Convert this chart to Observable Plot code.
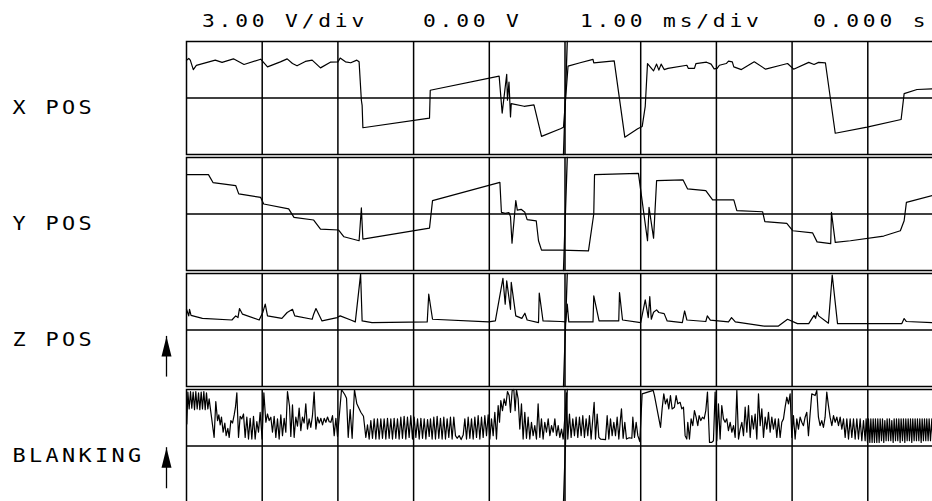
<!DOCTYPE html>
<html><head><meta charset="utf-8">
<script src="https://cdn.jsdelivr.net/npm/d3@7"></script>
<script src="https://cdn.jsdelivr.net/npm/@observablehq/plot@0.6"></script>
<style>
html,body{margin:0;padding:0;background:#fff;overflow:hidden;}
#wrap{position:relative;width:932px;height:501px;overflow:hidden;background:#fff;}
#header{position:relative;width:932px;height:40px;font-family:"DejaVu Sans Mono",monospace;font-size:17px;letter-spacing:3.05px;color:#000;}
#header span{position:absolute;top:11px;line-height:20px;white-space:pre;transform:scaleX(1.25);transform-origin:0 50%;}
#chart{width:944px;}
#chart svg{max-width:none !important;width:944px;height:462px;display:block;}
#chart svg text{letter-spacing:2.9px;}
</style></head><body>
<div id="wrap"><div id="header"></div><div id="chart"></div></div>
<script>
// ---- data ----
const channels = ["X POS", "Y POS", "Z POS", "BLANKING"];
const headerTexts = ["3.00 V/div", "0.00 V", "1.00 ms/div", "0.000 s"];
const divisions = [1, 2, 3, 4, 5, 6, 7, 8, 9];   // ms (1.00 ms/div)
const centerLine = [0];                          // V
// [time ms, volts]
const xPos = [[0,2.01],[0.03,2.10],[0.05,2.01],[0.09,1.51],[0.13,1.73],[0.38,2.01],[0.47,1.89],[0.62,2.08],[0.76,1.78],[0.98,2.06],[1.07,1.65],[1.24,1.92],[1.33,2.08],[1.40,1.83],[1.46,1.71],[1.57,1.94],[1.66,2.01],[1.77,1.60],[1.90,1.90],[2.00,1.92],[2.03,2.12],[2.10,1.92],[2.17,1.87],[2.25,2.01],[2.28,1.92],[2.31,-0.12],[2.32,-0.39],[2.33,-1.58],[3.21,-1.07],[3.22,0.41],[4.13,1.16],[4.17,-0.80],[4.23,1.26],[4.24,-0.12],[4.26,0.85],[4.28,-1.01],[4.29,-0.30],[4.46,-0.44],[4.59,-0.37],[4.69,-2.04],[4.94,-1.63],[4.98,-1.55],[5.04,1.69],[5.20,1.87],[5.37,2.05],[5.38,1.87],[5.65,1.97],[5.79,-2.08],[5.96,-1.63],[6.02,-1.51],[6.06,-0.44],[6.09,1.83],[6.17,1.44],[6.21,1.80],[6.24,1.48],[6.27,1.80],[6.31,1.51],[6.36,1.57],[6.61,1.74],[6.63,1.57],[6.71,1.57],[6.73,1.83],[6.87,1.90],[6.93,1.80],[6.97,1.55],[7.01,1.57],[7.04,1.74],[7.13,1.83],[7.16,1.96],[7.21,1.92],[7.23,1.65],[7.33,1.51],[7.50,1.92],[7.65,1.53],[7.85,1.74],[7.94,1.83],[8.02,1.53],[8.22,1.89],[8.29,1.78],[8.35,1.89],[8.44,1.87],[8.57,-1.87],[8.99,-1.55],[9.44,-1.14],[9.48,0.23],[9.65,0.45],[9.85,0.48],[10,0.50]];
const yPos = [[0,2.09],[0.29,2.09],[0.35,1.67],[0.65,1.51],[0.69,1.07],[0.98,0.88],[1.02,0.53],[1.35,0.27],[1.42,-0.18],[1.68,-0.32],[1.77,-0.80],[2.01,-0.85],[2.08,-1.21],[2.28,-1.42],[2.31,0.32],[2.33,-1.33],[3.21,-0.75],[3.25,0.71],[4.14,1.68],[4.16,0.09],[4.21,0.03],[4.26,0.07],[4.28,-0.14],[4.30,-1.55],[4.35,0.71],[4.37,0.21],[4.42,0.25],[4.47,0.09],[4.50,-0.30],[4.62,-0.36],[4.65,-1.42],[4.69,-1.92],[4.94,-1.92],[5.31,-1.96],[5.38,0],[5.39,2.09],[5.97,2.16],[6.09,-1.42],[6.11,0.35],[6.17,-1.28],[6.21,1.77],[6.56,1.81],[6.62,1.33],[6.86,1.24],[6.95,0.75],[7.23,0.75],[7.27,0.18],[7.61,0.12],[7.64,-0.41],[7.93,-0.50],[8.01,-0.89],[8.27,-1.00],[8.33,-1.48],[8.51,-1.57],[8.52,0.09],[8.57,-1.51],[8.77,-1.42],[9.21,-1.17],[9.43,-0.89],[9.48,-0.36],[9.51,0.62],[9.85,0.98],[10,1.05]];
const zPos = [[0,1.10],[0.03,0.75],[0.04,1.10],[0.06,0.78],[0.21,0.62],[0.60,0.53],[0.65,0.75],[0.68,0.66],[0.70,1.14],[0.74,0.84],[0.96,0.53],[1.01,0.96],[1.04,1.37],[1.07,0.75],[1.26,0.62],[1.33,0.93],[1.40,1.10],[1.43,0.75],[1.66,0.57],[1.68,0.84],[1.71,1.14],[1.79,0.48],[1.99,0.66],[2.03,0.75],[2.17,0.53],[2.23,0.43],[2.30,2.97],[2.32,0.48],[2.45,0.39],[3.18,0.43],[3.20,1.90],[3.25,0.57],[3.99,0.43],[4.08,0.48],[4.18,2.74],[4.21,1.37],[4.23,2.61],[4.28,1.10],[4.29,2.53],[4.35,0.75],[4.43,0.62],[4.47,0.89],[4.50,0.53],[4.65,0.39],[4.66,1.96],[4.71,0.48],[4.94,0.45],[5.01,0.43],[5.03,1.37],[5.05,0.43],[5.37,0.43],[5.38,1.81],[5.45,0.48],[5.71,0.48],[5.72,1.99],[5.76,0.53],[6.00,0.39],[6.06,1.60],[6.10,0.66],[6.12,1.78],[6.14,0.57],[6.17,0.94],[6.21,1.07],[6.24,0.93],[6.31,0.87],[6.35,0.48],[6.55,0.39],[6.58,1.01],[6.61,0.53],[6.86,0.45],[6.88,0.75],[6.92,0.52],[7.16,0.43],[7.20,0.66],[7.25,0.43],[7.63,0.21],[7.82,0.21],[7.94,0.57],[8.07,0.34],[8.22,0.34],[8.27,0.66],[8.29,0.78],[8.31,0.62],[8.33,0.96],[8.35,0.75],[8.48,0.36],[8.53,2.92],[8.60,0.34],[9.45,0.34],[9.48,0.61],[9.51,0.45],[9.85,0.39],[10,0.39]];
const blanking = [[0.004,1.17],[0.018,2.86],[0.035,1.97],[0.053,2.89],[0.070,2.01],[0.088,2.86],[0.106,1.93],[0.123,2.89],[0.141,1.97],[0.159,2.82],[0.176,1.93],[0.194,2.86],[0.211,1.97],[0.229,2.89],[0.247,1.93],[0.264,2.82],[0.282,1.97],[0.299,2.50],[0.365,0.46],[0.387,2.36],[0.410,1.35],[0.427,1.65],[0.445,1.12],[0.462,1.53],[0.484,0.73],[0.506,1.22],[0.524,0.55],[0.546,0.94],[0.564,0.46],[0.586,1.35],[0.608,1.22],[0.630,1.65],[0.647,2.06],[0.665,2.82],[0.687,0.46],[0.709,1.58],[0.731,1.44],[0.753,1.70],[0.775,0.46],[0.797,1.53],[0.819,0.37],[0.841,1.47],[0.863,0.37],[0.885,1.58],[0.907,0.37],[0.929,1.29],[0.951,0.73],[0.973,1.79],[0.999,0.37],[1.022,2.82],[1.048,1.26],[1.070,1.70],[1.092,1.35],[1.114,1.53],[1.136,0.73],[1.158,1.58],[1.180,0.46],[1.202,1.44],[1.224,0.37],[1.246,1.65],[1.268,0.55],[1.290,1.47],[1.312,0.73],[1.334,2.89],[1.361,2.11],[1.378,0.51],[1.400,2.18],[1.422,0.46],[1.444,1.53],[1.466,1.05],[1.488,2.01],[1.510,0.82],[1.532,1.53],[1.554,1.22],[1.576,2.24],[1.598,0.90],[1.620,1.44],[1.642,0.99],[1.664,1.61],[1.686,2.86],[1.709,0.90],[1.731,1.53],[1.753,1.22],[1.775,1.47],[1.797,1.12],[1.819,1.47],[1.841,1.26],[1.863,1.54],[1.885,1.29],[1.907,1.26],[1.929,1.61],[1.951,0.55],[1.973,1.47],[1.995,0.51],[2.048,3.00],[2.092,2.72],[2.114,2.54],[2.136,0.46],[2.162,1.93],[2.188,0.41],[2.219,3.00],[2.250,2.24],[2.303,1.79],[2.338,1.58],[2.369,0.46],[2.391,1.12],[2.413,0.37],[2.435,1.35],[2.457,0.41],[2.479,1.44],[2.501,0.37],[2.523,1.44],[2.545,0.37],[2.567,1.44],[2.589,0.41],[2.611,1.44],[2.633,0.37],[2.655,1.47],[2.677,0.41],[2.699,1.44],[2.721,0.37],[2.743,1.47],[2.765,0.41],[2.787,1.44],[2.809,0.37],[2.831,1.53],[2.853,0.41],[2.875,1.58],[2.897,0.37],[2.919,1.53],[2.941,0.46],[2.963,1.61],[2.985,0.37],[3.007,1.53],[3.030,0.46],[3.052,1.44],[3.074,0.37],[3.096,1.47],[3.118,0.41],[3.140,1.44],[3.162,0.37],[3.184,1.40],[3.206,0.51],[3.223,1.44],[3.245,0.37],[3.267,1.53],[3.289,0.37],[3.311,1.58],[3.333,0.41],[3.355,1.47],[3.377,0.37],[3.399,1.53],[3.421,0.37],[3.443,1.44],[3.465,0.46],[3.487,1.53],[3.509,0.37],[3.531,1.53],[3.553,0.55],[3.575,0.41],[3.602,0.55],[3.628,0.34],[3.655,0.58],[3.677,1.44],[3.699,0.37],[3.721,1.53],[3.743,0.41],[3.765,1.44],[3.787,0.37],[3.809,1.53],[3.831,0.46],[3.853,1.61],[3.875,0.37],[3.897,1.53],[3.919,0.46],[3.941,1.61],[3.963,0.55],[3.985,1.65],[4.007,0.37],[4.029,1.44],[4.051,0.55],[4.073,1.79],[4.095,0.37],[4.117,2.15],[4.135,1.26],[4.152,2.41],[4.174,1.88],[4.196,2.50],[4.218,2.15],[4.240,2.89],[4.262,2.68],[4.280,1.79],[4.302,2.95],[4.324,3.00],[4.341,1.88],[4.359,3.00],[4.381,2.50],[4.403,0.90],[4.425,2.24],[4.447,0.37],[4.469,1.79],[4.491,0.41],[4.513,1.53],[4.535,0.37],[4.557,1.26],[4.579,0.55],[4.601,1.08],[4.623,0.37],[4.645,2.24],[4.667,0.46],[4.689,1.44],[4.711,0.37],[4.733,1.26],[4.755,0.73],[4.778,1.44],[4.800,0.55],[4.822,1.08],[4.844,0.73],[4.866,1.44],[4.888,0.55],[4.910,1.08],[4.932,0.46],[4.954,0.90],[4.976,0.37],[4.998,1.53],[5.020,2.82],[5.037,0.37],[5.059,1.70],[5.081,0.46],[5.103,1.44],[5.125,0.55],[5.147,1.53],[5.169,0.46],[5.191,1.53],[5.213,0.55],[5.235,1.61],[5.257,0.46],[5.279,1.44],[5.301,0.55],[5.323,1.61],[5.345,0.37],[5.367,1.44],[5.385,2.32],[5.403,0.37],[5.425,1.70],[5.447,0.46],[5.469,0.37],[5.535,0.34],[5.557,1.61],[5.579,0.37],[5.601,1.44],[5.623,0.55],[5.645,1.26],[5.667,0.55],[5.689,1.53],[5.711,0.37],[5.733,1.44],[5.746,1.97],[5.768,0.41],[5.790,1.26],[5.812,0.37],[5.847,0.44],[5.883,0.41],[5.896,1.53],[5.918,0.46],[5.940,1.26],[5.962,0.55],[5.988,0.23],[6.019,2.77],[6.165,2.95],[6.182,2.68],[6.262,0.99],[6.283,1.97],[6.305,2.77],[6.327,2.24],[6.349,2.50],[6.371,1.97],[6.393,2.68],[6.415,1.97],[6.446,2.06],[6.468,2.68],[6.490,2.24],[6.521,2.32],[6.543,1.97],[6.565,2.06],[6.587,0.55],[6.609,0.37],[6.622,1.26],[6.644,0.37],[6.666,1.44],[6.688,1.08],[6.710,1.88],[6.732,1.53],[6.754,1.08],[6.772,1.61],[6.794,1.35],[6.816,1.53],[6.838,1.44],[6.860,1.88],[6.882,2.86],[6.909,0.19],[6.939,0.19],[6.961,0.28],[6.983,2.86],[7.005,0.28],[7.027,2.24],[7.049,0.37],[7.071,2.15],[7.093,1.44],[7.115,1.26],[7.137,1.44],[7.159,0.82],[7.182,1.26],[7.204,0.73],[7.226,1.08],[7.248,0.46],[7.270,2.95],[7.292,0.37],[7.314,0.90],[7.336,1.26],[7.358,0.55],[7.380,2.06],[7.402,0.73],[7.424,2.15],[7.446,0.46],[7.468,1.61],[7.490,0.90],[7.512,1.70],[7.534,0.37],[7.556,2.77],[7.578,1.08],[7.600,1.97],[7.622,0.46],[7.644,1.53],[7.666,0.90],[7.688,1.79],[7.710,0.73],[7.732,1.53],[7.754,0.90],[7.776,1.44],[7.798,0.46],[7.820,1.44],[7.842,0.46],[7.864,1.26],[7.886,1.44],[7.908,2.06],[7.930,2.59],[7.952,2.24],[7.974,2.77],[7.996,0.46],[8.018,1.61],[8.040,0.37],[8.062,1.44],[8.084,0.90],[8.106,1.53],[8.128,1.26],[8.150,1.08],[8.172,1.53],[8.194,1.79],[8.216,0.55],[8.238,1.70],[8.260,2.77],[8.304,2.68],[8.326,2.95],[8.348,1.53],[8.370,1.08],[8.392,1.35],[8.414,0.99],[8.436,1.53],[8.458,2.86],[8.480,2.15],[8.502,1.53],[8.525,1.08],[8.547,1.61],[8.569,1.26],[8.591,1.53],[8.613,1.08],[8.635,1.53],[8.657,0.90],[8.679,1.44],[8.701,0.46],[8.723,1.44],[8.745,0.37],[8.767,1.44],[8.789,0.46],[8.811,1.44],[8.833,0.37],[8.855,1.44],[8.877,0.37],[8.899,1.44],[8.921,0.28],[8.943,1.35],[8.965,0.28],[8.978,1.44],[8.996,0.19],[9.009,1.44],[9.027,0.19],[9.040,1.44],[9.057,0.19],[9.071,1.44],[9.088,0.19],[9.101,1.44],[9.119,0.19],[9.132,1.44],[9.150,0.19],[9.163,1.44],[9.181,0.28],[9.194,1.44],[9.211,0.19],[9.225,1.35],[9.242,0.28],[9.255,1.44],[9.273,0.28],[9.286,1.44],[9.304,0.28],[9.317,1.35],[9.335,0.19],[9.348,1.44],[9.366,0.28],[9.379,1.44],[9.396,0.28],[9.410,1.44],[9.427,0.19],[9.440,1.44],[9.458,0.28],[9.471,1.44],[9.489,0.19],[9.502,1.44],[9.520,0.28],[9.533,1.44],[9.550,0.28],[9.564,1.44],[9.581,0.19],[9.594,1.44],[9.612,0.28],[9.625,1.44],[9.643,0.28],[9.656,1.44],[9.674,0.28],[9.687,1.44],[9.705,0.19],[9.718,1.44],[9.735,0.28],[9.749,1.44],[9.766,0.28],[9.779,1.44],[9.797,0.28],[9.810,1.44],[9.828,0.28],[9.846,1.44],[9.860,0.28],[9.880,1.44],[9.900,0.28],[9.920,1.44],[9.940,0.28],[9.960,1.44],[9.980,0.28],[10,1.44]];
// slanted trigger/cursor trace seen in every channel: [time ms, volts]
const cursor = [[4.98,-3],[5.03,3]];
// reference-level arrows shown left of the Z POS and BLANKING channels
const refMarks = [
  {channel: "Z POS", t: 0, tip: -0.34, low: -2.5},
  {channel: "BLANKING", t: 0, tip: -0.09, low: -2.27}
];

// ---- header ----
const headerLeft = [202, 423, 580, 813];
const header = document.getElementById("header");
headerTexts.forEach((s, i) => {
  const el = document.createElement("span");
  el.textContent = s;
  el.style.left = headerLeft[i] + "px";
  header.appendChild(el);
});

// ---- chart ----
const series = {"X POS": xPos, "Y POS": yPos, "Z POS": zPos, "BLANKING": blanking};
const traces = channels.flatMap(c => series[c].map(([t, v]) => ({channel: c, t, v})));
const arrowHead = {draw(ctx) { ctx.moveTo(0, 0); ctx.lineTo(5, 20); ctx.lineTo(-5, 20); ctx.closePath(); }};

const chart = Plot.plot({
  width: 944, height: 462,
  marginLeft: 186, marginRight: 1, marginTop: 1, marginBottom: 0,
  x: {domain: [0, 10], axis: null},
  y: {domain: [-3, 3], axis: null},
  fy: {domain: channels, axis: null, paddingInner: 3 / 116, paddingOuter: 0},
  style: {background: "white", color: "black", overflow: "visible"},
  marks: [
    Plot.ruleX(divisions, {stroke: "black", strokeWidth: 1.5}),
    Plot.ruleY(centerLine, {stroke: "black", strokeWidth: 1.5}),
    Plot.frame({stroke: "black", strokeWidth: 1.5}),
    Plot.line(cursor, {x: d => d[0], y: d => d[1], stroke: "black", strokeWidth: 1.3}),
    Plot.line(traces, {x: "t", y: "v", fy: "channel", z: "channel", stroke: "black", strokeWidth: 1.2}),
    Plot.ruleX(refMarks, {x: "t", y1: "low", y2: "tip", fy: "channel", dx: -20, stroke: "black", strokeWidth: 1.3}),
    Plot.dot(refMarks, {x: "t", y: "tip", fy: "channel", dx: -20, symbol: arrowHead, fill: "black"}),
    Plot.text(channels, {fy: d => d, text: d => d, frameAnchor: "left", textAnchor: "start", dx: -174, dy: 10, fontSize: 19, fontFamily: "DejaVu Sans Mono", fill: "black"})
  ]
});
// widen the channel-label glyphs (plotter-style wide font), keeping their left edge
d3.select(chart).selectAll("text").each(function () {
  const xAttr = this.getAttribute("x");
  if (xAttr != null && xAttr !== "") this.setAttribute("x", String(+xAttr / 1.15));
  const tr = this.getAttribute("transform") || "";
  this.setAttribute("transform", (tr + " scale(1.15,1)").trim());
});
document.getElementById("chart").appendChild(chart);
</script>
</body></html>
